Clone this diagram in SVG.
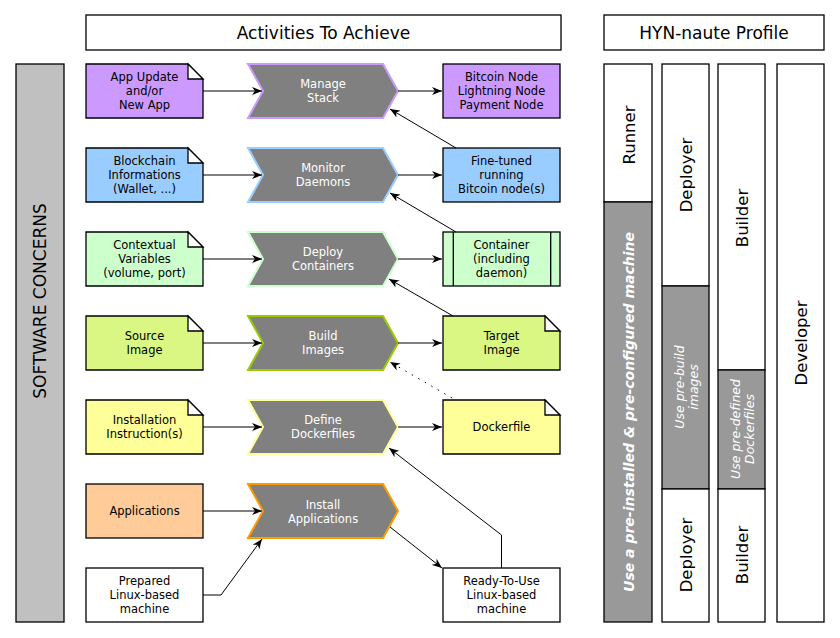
<svg xmlns="http://www.w3.org/2000/svg" width="840" height="638" viewBox="0 0 840 638">
<defs>
<style>
text{font-family:"DejaVu Sans","Liberation Sans",sans-serif;fill:#000;text-anchor:middle;dominant-baseline:central}
.hdr{font-size:17px}
.t{font-size:11.5px}
.w{fill:#fff}
.box{stroke:#000;stroke-width:1.3}
.fold{fill:#fff;stroke:#000;stroke-width:1.3;stroke-linejoin:miter}
.chev{fill:#808080;stroke-width:2}
.lbl{font-size:16.5px}
.gi{font-size:12.5px;font-style:italic;fill:#fff}
.gb{font-size:14px;font-style:italic;font-weight:bold;fill:#fff}
.gray{fill:#999999;stroke:#000;stroke-width:1.3}
.wht{fill:#fff;stroke:#000;stroke-width:1.3}
.c{fill:none;stroke:#000;stroke-width:1;marker-end:url(#ah)}
.dot{stroke-dasharray:1.5 6}
</style>
<marker id="ah" viewBox="0 0 10 8" refX="10" refY="4" markerWidth="10" markerHeight="8" markerUnits="userSpaceOnUse" orient="auto">
<path d="M0,0 L10,4 L0,8 L3,4 Z" fill="#000"/>
</marker>
</defs>
<rect width="840" height="638" fill="#fff"/>

<g id="header-activities"><rect x="86" y="15" width="475" height="35" class="wht"/><text x="323.5" y="33" class="hdr">Activities To Achieve</text></g>
<g id="header-profile"><rect x="604" y="15" width="220" height="35" class="wht"/><text x="714" y="33" class="hdr">HYN-naute Profile</text></g>

<g id="software-concerns"><rect x="16" y="64" width="48" height="558" fill="#c0c0c0" stroke="#000" stroke-width="1.3"/><text transform="translate(40,301) rotate(-90)" class="hdr">SOFTWARE CONCERNS</text></g>

<!-- Row 1 -->
<g id="app-update"><path d="M86,64 H188 L203,79 V118 H86 Z" fill="#cc99ff" class="box"/><path d="M188,64 V79 H203 Z" class="fold"/><text class="t"><tspan x="144.5" y="77">App Update</tspan><tspan x="144.5" y="91">and/or</tspan><tspan x="144.5" y="105">New App</tspan></text></g>
<g id="manage-stack"><path d="M248,64 H383 L398,91 L383,118 H248 L263,91 Z" class="chev" stroke="#cc99ff"/><text class="t w"><tspan x="323" y="84">Manage</tspan><tspan x="323" y="98">Stack</tspan></text></g>
<g id="nodes"><rect x="443" y="64" width="117" height="54" fill="#cc99ff" class="box"/><text class="t"><tspan x="501.5" y="77">Bitcoin Node</tspan><tspan x="501.5" y="91">Lightning Node</tspan><tspan x="501.5" y="105">Payment Node</tspan></text></g>

<!-- Row 2 -->
<g id="blockchain-info"><path d="M86,148 H188 L203,163 V202 H86 Z" fill="#99ccff" class="box"/><path d="M188,148 V163 H203 Z" class="fold"/><text class="t"><tspan x="144.5" y="161">Blockchain</tspan><tspan x="144.5" y="175">Informations</tspan><tspan x="144.5" y="189">(Wallet, ...)</tspan></text></g>
<g id="monitor-daemons"><path d="M248,148 H383 L398,175 L383,202 H248 L263,175 Z" class="chev" stroke="#99ccff"/><text class="t w"><tspan x="323" y="168">Monitor</tspan><tspan x="323" y="182">Daemons</tspan></text></g>
<g id="fine-tuned"><rect x="443" y="148" width="117" height="54" fill="#99ccff" class="box"/><text class="t"><tspan x="501.5" y="161">Fine-tuned</tspan><tspan x="501.5" y="175">running</tspan><tspan x="501.5" y="189">Bitcoin node(s)</tspan></text></g>

<!-- Row 3 -->
<g id="contextual-vars"><path d="M86,232 H188 L203,247 V286 H86 Z" fill="#ccffcc" class="box"/><path d="M188,232 V247 H203 Z" class="fold"/><text class="t"><tspan x="144.5" y="245">Contextual</tspan><tspan x="144.5" y="259">Variables</tspan><tspan x="144.5" y="273">(volume, port)</tspan></text></g>
<g id="deploy-containers"><path d="M248,232 H383 L398,259 L383,286 H248 L263,259 Z" class="chev" stroke="#ccffcc"/><text class="t w"><tspan x="323" y="252">Deploy</tspan><tspan x="323" y="266">Containers</tspan></text></g>
<g id="container"><rect x="443" y="232" width="117" height="54" fill="#ccffcc" class="box"/><path d="M453.3,232 V286 M550.7,232 V286" stroke="#000" stroke-width="1.3"/><text class="t"><tspan x="501.5" y="245">Container</tspan><tspan x="501.5" y="259">(including</tspan><tspan x="501.5" y="273">daemon)</tspan></text></g>

<!-- Row 4 -->
<g id="source-image"><path d="M86,316 H188 L203,331 V370 H86 Z" fill="#d9f782" class="box"/><path d="M188,316 V331 H203 Z" class="fold"/><text class="t"><tspan x="144.5" y="336">Source</tspan><tspan x="144.5" y="350">Image</tspan></text></g>
<g id="build-images"><path d="M248,316 H383 L398,343 L383,370 H248 L263,343 Z" class="chev" stroke="#99cc00"/><text class="t w"><tspan x="323" y="336">Build</tspan><tspan x="323" y="350">Images</tspan></text></g>
<g id="target-image"><path d="M443,316 H545 L560,331 V370 H443 Z" fill="#d9f782" class="box"/><path d="M545,316 V331 H560 Z" class="fold"/><text class="t"><tspan x="501.5" y="336">Target</tspan><tspan x="501.5" y="350">Image</tspan></text></g>

<!-- Row 5 -->
<g id="installation-instructions"><path d="M86,400 H188 L203,415 V454 H86 Z" fill="#ffff99" class="box"/><path d="M188,400 V415 H203 Z" class="fold"/><text class="t"><tspan x="144.5" y="420">Installation</tspan><tspan x="144.5" y="434">Instruction(s)</tspan></text></g>
<g id="define-dockerfiles"><path d="M248,400 H383 L398,427 L383,454 H248 L263,427 Z" class="chev" stroke="#ffff99"/><text class="t w"><tspan x="323" y="420">Define</tspan><tspan x="323" y="434">Dockerfiles</tspan></text></g>
<g id="dockerfile"><path d="M443,400 H545 L560,415 V454 H443 Z" fill="#ffff99" class="box"/><path d="M545,400 V415 H560 Z" class="fold"/><text x="501.5" y="427" class="t">Dockerfile</text></g>

<!-- Row 6 -->
<g id="applications"><rect x="86" y="484" width="117" height="54" fill="#ffcc99" class="box"/><text x="144.5" y="511" class="t">Applications</text></g>
<g id="install-applications"><path d="M248,484 H383 L398,511 L383,538 H248 L263,511 Z" class="chev" stroke="#ff9900"/><text class="t w"><tspan x="323" y="505">Install</tspan><tspan x="323" y="519">Applications</tspan></text></g>

<!-- Row 7 -->
<g id="prepared-machine"><rect x="86" y="568" width="117" height="54" fill="#fff" class="box"/><text class="t"><tspan x="144.5" y="581">Prepared</tspan><tspan x="144.5" y="595">Linux-based</tspan><tspan x="144.5" y="609">machine</tspan></text></g>
<g id="ready-machine"><rect x="443" y="568" width="117" height="54" fill="#fff" class="box"/><text class="t"><tspan x="501.5" y="581">Ready-To-Use</tspan><tspan x="501.5" y="595">Linux-based</tspan><tspan x="501.5" y="609">machine</tspan></text></g>

<!-- Profile columns -->
<g id="runner-col">
<rect x="604" y="64" width="48" height="138" class="wht"/><text transform="translate(629,135) rotate(-90)" class="lbl">Runner</text>
<rect x="604" y="202" width="48" height="420" class="gray"/><text transform="translate(629,412) rotate(-90)" class="gb">Use a pre-installed &amp; pre-configured machine</text>
</g>
<g id="deployer-col">
<rect x="662" y="64" width="47" height="222" class="wht"/><text transform="translate(686.5,175) rotate(-90)" class="lbl">Deployer</text>
<rect x="662" y="286" width="47" height="203" class="gray"/><text transform="translate(686,387) rotate(-90)" class="gi"><tspan x="0" y="-7">Use pre-build</tspan><tspan x="0" y="7">images</tspan></text>
<rect x="662" y="489" width="47" height="133" class="wht"/><text transform="translate(686.5,555) rotate(-90)" class="lbl">Deployer</text>
</g>
<g id="builder-col">
<rect x="718" y="64" width="47" height="306" class="wht"/><text transform="translate(742.5,218) rotate(-90)" class="lbl">Builder</text>
<rect x="718" y="370" width="47" height="119" class="gray"/><text transform="translate(742,429) rotate(-90)" class="gi"><tspan x="0" y="-7">Use pre-defined</tspan><tspan x="0" y="7">Dockerfiles</tspan></text>
<rect x="718" y="489" width="47" height="133" class="wht"/><text transform="translate(742.5,555) rotate(-90)" class="lbl">Builder</text>
</g>
<g id="developer-col">
<rect x="777" y="64" width="47" height="558" class="wht"/><text transform="translate(801.5,343) rotate(-90)" class="lbl">Developer</text>
</g>

<g id="connectors">
<path d="M203,91 H262" class="c"/>
<path d="M398,91 H442" class="c"/>
<path d="M203,175 H262" class="c"/>
<path d="M398,175 H442" class="c"/>
<path d="M203,259 H262" class="c"/>
<path d="M398,259 H442" class="c"/>
<path d="M203,343 H262" class="c"/>
<path d="M398,343 H442" class="c"/>
<path d="M203,427 H262" class="c"/>
<path d="M398,427 H442" class="c"/>
<path d="M203,511 H262" class="c"/>
<path d="M456,148 L390,109" class="c"/>
<path d="M456,232 L390,193" class="c"/>
<path d="M453,316 L389,279" class="c"/>
<path d="M452,398 L390,362" class="c dot"/>
<path d="M501.5,568 V535 L389,448" class="c"/>
<path d="M203,595 H221 L262,539" class="c"/>
<path d="M390,527 L442,568" class="c"/>
</g>
</svg>
